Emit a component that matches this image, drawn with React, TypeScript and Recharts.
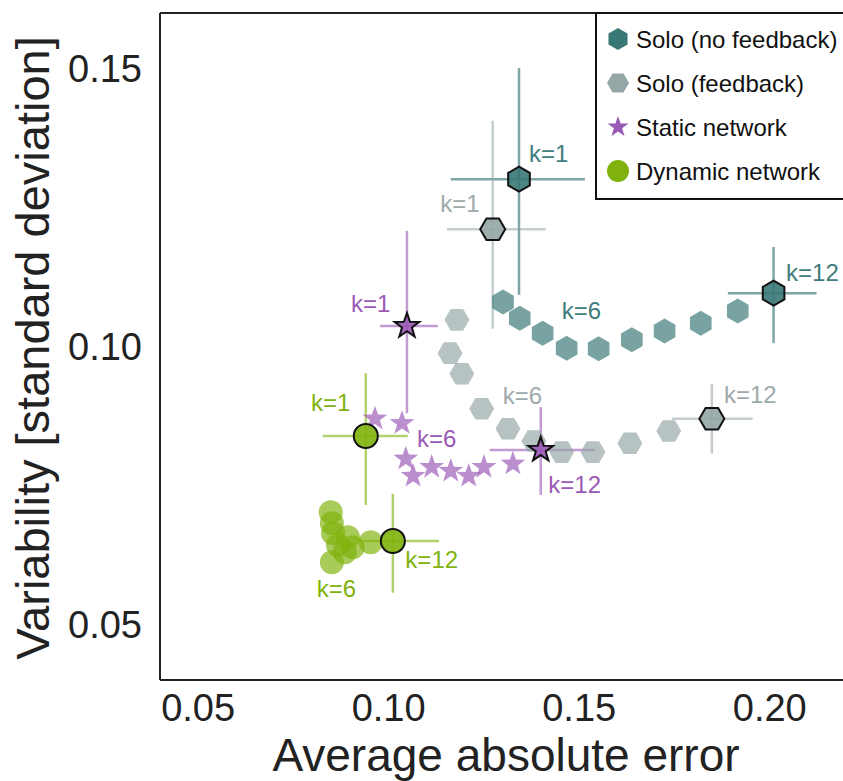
import React from 'react';
import { ScatterChart, Scatter, XAxis, YAxis, ErrorBar, ReferenceLine, Legend } from 'recharts';

const FONT = '"Liberation Sans", Arial, Helvetica, sans-serif';

// Solo (no feedback): k=1 first, k=12 last
const soloX = [0.1342, 0.13, 0.1344, 0.1404, 0.1467, 0.1551, 0.1638, 0.1724, 0.1819, 0.1916, 0.201];
const soloY = [0.1301, 0.108, 0.1051, 0.1024, 0.0997, 0.0996, 0.1012, 0.1028, 0.1042, 0.1064, 0.1096];
const soloErrX = [[0.1163, 0.1515], [0.189, 0.2123]];
const soloErrY = [[0.1093, 0.1501], [0.1006, 0.1179]];

// Solo (feedback)
const fbX = [0.1273, 0.1179, 0.1161, 0.1192, 0.1244, 0.1313, 0.1381, 0.1454, 0.1536, 0.1633, 0.1735, 0.1848];
const fbY = [0.1211, 0.1048, 0.0988, 0.0951, 0.0888, 0.0852, 0.083, 0.081, 0.081, 0.0826, 0.0848, 0.087];
const fbErrX = [[0.1153, 0.1412], [0.1743, 0.1955]];
const fbErrY = [[0.1032, 0.1406], [0.0807, 0.0933]];

// Static network
const staticX = [0.1048, 0.0964, 0.1035, 0.1045, 0.1064, 0.1113, 0.1163, 0.121, 0.125, 0.1326, 0.1399];
const staticY = [0.1037, 0.087, 0.0862, 0.0798, 0.0767, 0.0783, 0.0776, 0.0767, 0.0783, 0.0789, 0.0814];
const staticErrX = [[0.0977, 0.1129], [0.1265, 0.1541]];
const staticErrY = [[0.088, 0.1208], [0.0733, 0.0891]];

// Dynamic network
const dynX = [0.094, 0.0848, 0.0851, 0.0854, 0.0893, 0.0867, 0.0906, 0.0885, 0.0851, 0.0953, 0.1011];
const dynY = [0.0839, 0.0702, 0.0682, 0.0664, 0.0657, 0.0643, 0.0639, 0.063, 0.0612, 0.0648, 0.065];
const dynErrX = [[0.0827, 0.105], [0.0932, 0.1132]];
const dynErrY = [[0.0715, 0.0952], [0.0557, 0.0735]];

// k annotations
const kLabels = ['k=1', 'k=6', 'k=12'];
const soloLabX = [0.142, 0.1506, 0.2112];
const soloLabY = [0.1348, 0.1064, 0.1133];
const fbLabX = [0.1187, 0.1351, 0.1949];
const fbLabY = [0.1258, 0.0912, 0.0913];
const staticLabX = [0.0953, 0.1126, 0.1488];
const staticLabY = [0.1078, 0.0835, 0.0751];
const dynLabX = [0.0848, 0.0863, 0.1113];
const dynLabY = [0.0899, 0.0565, 0.0616];

const xTicks = [0.05, 0.1, 0.15, 0.2];
const yTicks = [0.05, 0.1, 0.15];

const legendNames = ['Solo (no feedback)', 'Solo (feedback)', 'Static network', 'Dynamic network'];

type Kind = 'hex' | 'hexFlat' | 'star' | 'circle';

const SERIES = [
  { kind: 'hex' as Kind, color: '#3a7777', text: '#3f7c7c', err: 'rgba(58,119,119,0.65)', r: 12.5 },
  { kind: 'hexFlat' as Kind, color: '#95a6a6', text: '#9eaaaa', err: 'rgba(149,166,166,0.55)', r: 12.5 },
  { kind: 'star' as Kind, color: '#9b59b6', text: '#9b59b6', err: 'rgba(155,89,182,0.6)', r: 13 },
  { kind: 'circle' as Kind, color: '#7fb20c', text: '#7fb20c', err: 'rgba(127,178,12,0.6)', r: 12 },
];

function polyPoints(cx: number, cy: number, radii: number[], start: number) {
  const n = radii.length;
  return radii
    .map((r, i) => {
      const a = ((start + (360 / n) * i) * Math.PI) / 180;
      return `${cx + r * Math.cos(a)},${cy + r * Math.sin(a)}`;
    })
    .join(' ');
}

function Marker({ kind, cx, cy, r, fill, opacity = 1, stroke }: any) {
  const common = { fill, fillOpacity: opacity, stroke: stroke || 'none', strokeWidth: stroke ? 2 : 0 };
  if (kind === 'circle') return <circle cx={cx} cy={cy} r={r} {...common} />;
  if (kind === 'star') {
    const radii = Array.from({ length: 10 }, (_, i) => (i % 2 === 0 ? r : r * 0.4));
    return <polygon points={polyPoints(cx, cy, radii, -90)} {...common} />;
  }
  const start = kind === 'hex' ? -90 : 0;
  return <polygon points={polyPoints(cx, cy, [r, r, r, r, r, r], start)} {...common} />;
}

const rows = (xs: number[], ys: number[]) => xs.map((x, i) => ({ x, y: ys[i] }));

function keyRows(xs: number[], ys: number[], ex: number[][], ey: number[][]) {
  const idx = [0, xs.length - 1];
  return idx.map((j, i) => ({
    x: xs[j],
    y: ys[j],
    ex: [xs[j] - ex[i][0], ex[i][1] - xs[j]],
    ey: [ys[j] - ey[i][0], ey[i][1] - ys[j]],
  }));
}

const labelRows = (xs: number[], ys: number[]) => xs.map((x, i) => ({ x, y: ys[i], label: kLabels[i] }));

const groups = [
  { all: rows(soloX, soloY), key: keyRows(soloX, soloY, soloErrX, soloErrY), labels: labelRows(soloLabX, soloLabY) },
  { all: rows(fbX, fbY), key: keyRows(fbX, fbY, fbErrX, fbErrY), labels: labelRows(fbLabX, fbLabY) },
  { all: rows(staticX, staticY), key: keyRows(staticX, staticY, staticErrX, staticErrY), labels: labelRows(staticLabX, staticLabY) },
  { all: rows(dynX, dynY), key: keyRows(dynX, dynY, dynErrX, dynErrY), labels: labelRows(dynLabX, dynLabY) },
];

function LegendBox() {
  return (
    <svg width={260} height={190} style={{ display: 'block' }}>
      <rect x={1} y={1} width={300} height={186} fill="#fff" stroke="#111" strokeWidth={2} />
      {legendNames.map((name, i) => {
        const cy = 27 + i * 44;
        const s = SERIES[i];
        return (
          <g key={name}>
            <Marker kind={s.kind} cx={23} cy={cy} r={11} fill={s.color} />
            <text x={41} y={cy} dominantBaseline="central" fontSize={24} fill="#111" fontFamily={FONT}>
              {name}
            </text>
          </g>
        );
      })}
    </svg>
  );
}

export default function App() {
  return (
    <div style={{ position: 'absolute', left: 0, top: 0, width: 843, height: 781, overflow: 'hidden', background: '#fff' }}>
      <ScatterChart width={860} height={781} margin={{ top: 13, right: 14, bottom: 0, left: 0 }}>
        <XAxis
          type="number"
          dataKey="x"
          domain={[0.04, 0.22]}
          ticks={xTicks}
          allowDataOverflow
          tickFormatter={(v: number) => v.toFixed(2)}
          tickLine={false}
          tickSize={0}
          tickMargin={14}
          height={101}
          axisLine={{ stroke: '#222', strokeWidth: 2 }}
          tick={{ fontSize: 38, fill: '#222', fontFamily: FONT }}
          label={{
            value: 'Average absolute error',
            content: () => (
              <text x={506} y={771} textAnchor="middle" fontSize={46} fill="#222" fontFamily={FONT}>
                Average absolute error
              </text>
            ),
          }}
        />
        <YAxis
          type="number"
          dataKey="y"
          domain={[0.04, 0.16]}
          ticks={yTicks}
          allowDataOverflow
          tickFormatter={(v: number) => v.toFixed(2)}
          tickLine={false}
          tickSize={0}
          tickMargin={18}
          width={160}
          axisLine={{ stroke: '#222', strokeWidth: 2 }}
          tick={{ fontSize: 38, fill: '#222', fontFamily: FONT }}
          label={{
            value: 'Variability [standard deviation]',
            content: () => (
              <text
                x={49}
                y={348}
                transform="rotate(-90, 49, 348)"
                textAnchor="middle"
                fontSize={47}
                fill="#222"
                fontFamily={FONT}
              >
                Variability [standard deviation]
              </text>
            ),
          }}
        />
        <ReferenceLine y={0.16} stroke="#222" strokeWidth={2} />

        {groups.map((g, gi) => (
          <Scatter
            key={`pts-${gi}`}
            data={g.all.slice(1, -1)}
            isAnimationActive={false}
            shape={(p: any) => (
              <Marker kind={SERIES[gi].kind} cx={p.cx} cy={p.cy} r={SERIES[gi].r} fill={SERIES[gi].color} opacity={0.68} />
            )}
          />
        ))}

        {groups.map((g, gi) => (
          <Scatter
            key={`key-${gi}`}
            data={g.key}
            isAnimationActive={false}
            shape={(p: any) => (
              <Marker kind={SERIES[gi].kind} cx={p.cx} cy={p.cy} r={SERIES[gi].r} fill={SERIES[gi].color} opacity={0.9} stroke="#111" />
            )}
          >
            <ErrorBar dataKey="ex" direction="x" width={0} stroke={SERIES[gi].err} strokeWidth={2.5} isAnimationActive={false} />
            <ErrorBar dataKey="ey" direction="y" width={0} stroke={SERIES[gi].err} strokeWidth={2.5} isAnimationActive={false} />
          </Scatter>
        ))}

        {groups.map((g, gi) => (
          <Scatter
            key={`lab-${gi}`}
            data={g.labels}
            isAnimationActive={false}
            shape={(p: any) => (
              <text
                x={p.cx}
                y={p.cy}
                textAnchor="middle"
                dominantBaseline="central"
                fontSize={24}
                fill={SERIES[gi].text}
                fontFamily={FONT}
              >
                {p.payload?.label}
              </text>
            )}
          />
        ))}

        <Legend
          layout="vertical"
          align="center"
          verticalAlign="middle"
          wrapperStyle={{ top: 12, left: 595, width: 260, height: 190 }}
          content={() => <LegendBox />}
        />
      </ScatterChart>
    </div>
  );
}
